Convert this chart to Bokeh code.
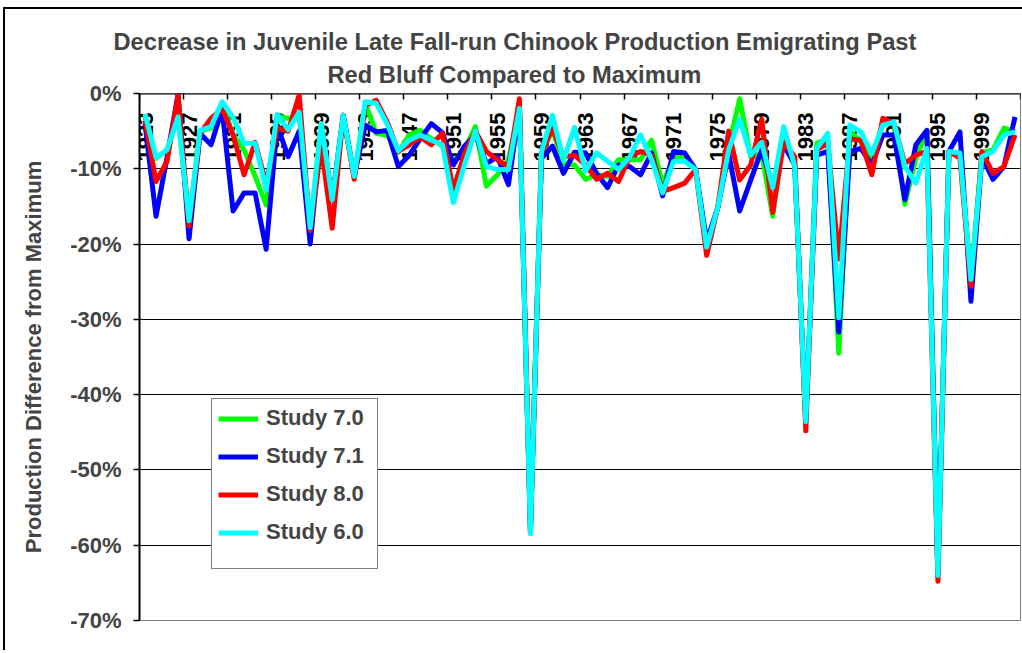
import math
from bokeh.plotting import figure
from bokeh.models import (LinearAxis, FixedTicker, CustomJSTickFormatter, Legend,
                          LegendItem, Range1d, Title, ColumnDataSource)
from bokeh.core.properties import value
from bokeh.embed import file_html
from bokeh.resources import INLINE

years = list(range(1923, 2003))

study_70 = [-3.0, -8.6, -7.5, -3.1, -17.0, -5.0, -4.6, -1.3, -5.5, -7.5,
            -11.0, -14.8, -3.0, -3.3, -3.0, -18.0, -4.0, -14.1, -2.9, -11.0,
            -1.3, -5.3, -5.6, -7.8, -5.5, -4.9, -6.0, -7.0, -9.0, -7.5,
            -4.4, -12.3, -10.8, -8.8, -2.0, -58.3, -8.0, -4.8, -9.3, -9.5,
            -11.4, -10.8, -11.0, -8.8, -8.8, -8.8, -6.2, -12.1, -8.4, -8.6,
            -10.1, -20.0, -15.2, -7.0, -0.7, -8.4, -8.0, -16.3, -5.0, -9.7,
            -43.6, -6.6, -6.0, -34.5, -5.0, -6.4, -8.5, -4.0, -3.8, -14.7,
            -8.6, -4.9, -64.0, -7.7, -8.0, -24.7, -7.9, -7.5, -4.6, -5.1]

study_71 = [-4.0, -16.3, -8.5, -0.1, -19.3, -5.3, -6.8, -2.1, -15.6, -13.2,
            -13.2, -20.7, -4.2, -8.4, -5.0, -20.0, -5.0, -14.1, -2.9, -11.0,
            -4.2, -5.1, -4.9, -9.7, -8.2, -6.0, -4.0, -5.2, -9.5, -7.0,
            -5.5, -9.3, -8.4, -12.1, -2.0, -58.3, -8.6, -7.0, -10.6, -7.8,
            -7.9, -10.6, -12.5, -9.5, -9.7, -10.8, -7.9, -13.6, -7.7, -7.9,
            -10.1, -19.6, -15.2, -8.0, -15.6, -11.5, -7.5, -12.5, -6.8, -9.5,
            -43.6, -8.2, -7.7, -31.7, -7.7, -7.3, -9.5, -5.5, -5.5, -14.1,
            -6.8, -4.9, -64.0, -7.7, -5.1, -27.6, -8.4, -11.4, -9.7, -3.1]

study_80 = [-3.6, -11.7, -9.0, -0.3, -17.6, -5.3, -3.3, -2.0, -5.5, -10.8,
            -6.5, -12.0, -4.6, -5.0, -0.2, -18.2, -7.0, -17.9, -2.9, -11.4,
            -1.6, -0.9, -3.8, -7.7, -6.8, -5.8, -6.8, -5.3, -12.8, -8.0,
            -5.0, -7.7, -8.8, -9.7, -0.7, -58.0, -8.0, -4.6, -8.4, -8.2,
            -9.5, -11.4, -10.6, -11.7, -8.4, -7.7, -8.2, -13.0, -12.5, -11.9,
            -10.1, -21.5, -15.2, -5.0, -11.5, -9.5, -3.4, -15.8, -6.5, -8.4,
            -44.8, -7.5, -6.6, -22.0, -6.0, -6.2, -10.8, -3.3, -4.0, -9.3,
            -8.2, -7.7, -64.8, -7.7, -8.6, -25.6, -7.7, -10.6, -9.7, -5.5]

study_60 = [-2.7, -8.5, -7.5, -3.1, -16.9, -4.9, -4.4, -1.1, -3.2, -6.6,
            -6.6, -12.8, -2.8, -4.8, -2.5, -17.8, -4.0, -14.1, -2.9, -11.0,
            -1.1, -1.3, -4.1, -7.6, -6.2, -5.5, -6.2, -6.8, -14.5, -9.5,
            -5.0, -9.7, -10.1, -10.1, -2.0, -58.5, -7.7, -2.9, -8.9, -4.5,
            -10.3, -7.9, -9.0, -10.1, -8.5, -5.5, -8.8, -13.2, -9.0, -9.0,
            -10.1, -20.4, -15.2, -7.5, -3.4, -8.2, -6.5, -12.5, -4.4, -9.7,
            -43.6, -7.3, -5.3, -29.8, -4.2, -5.1, -8.0, -4.2, -3.8, -9.7,
            -11.9, -7.3, -64.0, -7.7, -7.9, -24.7, -8.4, -7.7, -5.5, -5.1]

series_names = ["Study 7.0", "Study 7.1", "Study 8.0", "Study 6.0"]
series_colors = ["#00FF00", "#0000FF", "#FF0000", "#00FFFF"]

tick_label_years = list(range(1923, 2000, 4))
y_ticks = [0, -10, -20, -30, -40, -50, -60, -70]

title_line1 = "Decrease in Juvenile Late Fall-run Chinook Production Emigrating Past"
title_line2 = "Red Bluff Compared to Maximum"
y_label = "Production Difference from Maximum"

FONT = "Liberation Sans"

FRAME_H = 527           # plot-area height in px (650 - 93 - 30)
Y_MIN, Y_MAX = -70, 0
LABEL_GAP_PX = 19       # gap between the 0% axis and the end of each year label

p = figure(width=1022, height=650, output_backend="svg", toolbar_location=None,
           x_range=Range1d(years[0] - 0.5, years[-1] + 0.5), y_range=Range1d(Y_MIN, Y_MAX),
           x_axis_location=None, y_axis_location="left",
           min_border_left=139, min_border_right=2, min_border_top=93, min_border_bottom=30,
           background_fill_color="white", border_fill_color="white", border_fill_alpha=0)
p.styles = {
    "background-color": "white",
    "background-image": "linear-gradient(#000, #000), linear-gradient(#000, #000)",
    "background-size": "2px 100%, 100% 2px",
    "background-position": "3px 7px, 3px 7px",
    "background-repeat": "no-repeat",
}

p.outline_line_color = "#808080"
p.outline_line_width = 1

# title: two lines, line 2 next to the frame
p.title.text = title_line1
p.title.align = "left"
p.title.offset = -26
p.title.text_font = FONT
p.title.text_font_style = "bold"
p.title.text_font_size = "23.7px"
p.title.standoff = 0
p.add_layout(Title(text=title_line2, align="left", offset=188, text_font=FONT,
                   text_font_style="bold", text_font_size="23.7px", standoff=11), "above")

# y axis
yax = p.yaxis[0]
yax.ticker = FixedTicker(ticks=y_ticks)
yax.formatter = CustomJSTickFormatter(code="return tick + '%';")
yax.major_tick_out = 6
yax.major_tick_in = 0
yax.minor_tick_out = 0
yax.minor_tick_in = 0
yax.axis_line_color = "black"
yax.axis_line_width = 2
yax.major_tick_line_width = 1.5
yax.major_label_standoff = 12
yax.major_label_text_font = FONT
yax.major_label_text_font_style = "bold"
yax.major_label_text_font_size = "22px"
yax.axis_label = y_label
yax.axis_label_text_font = FONT
yax.axis_label_text_font_style = "bold"
yax.axis_label_text_font_size = "22px"
yax.axis_label_standoff = 21

p.ygrid.ticker = FixedTicker(ticks=y_ticks)
p.ygrid.grid_line_color = "black"
p.ygrid.grid_line_width = 1
p.xgrid.visible = False

# category tick marks (between categories) on the 0% line
tick_axis = LinearAxis(ticker=FixedTicker(ticks=[y - 0.5 for y in tick_label_years] + [years[-1] + 0.5]),
                       fixed_location=0, major_tick_out=6, major_tick_in=0,
                       minor_tick_out=0, minor_tick_in=0,
                       axis_line_color="black", axis_line_width=2,
                       major_tick_line_width=1.5,
                       major_label_text_color=None, level="underlay")
p.add_layout(tick_axis, "below")

# year labels at category centers, just under the 0% axis, beneath the lines
label_y = Y_MAX - LABEL_GAP_PX * (Y_MAX - Y_MIN) / FRAME_H
label_src = ColumnDataSource(data=dict(x=tick_label_years,
                                       y=[label_y] * len(tick_label_years),
                                       t=[str(v) for v in tick_label_years]))
p.text(x="x", y="y", text="t", source=label_src, angle=math.pi / 2,
       text_align="right", text_baseline="middle",
       text_font=value(FONT), text_font_style=value("bold"),
       text_font_size=value("22px"), text_color="black")

renderers = []
for vals, color in zip([study_70, study_71, study_80, study_60], series_colors):
    r = p.line(years, vals, line_color=color, line_width=5, line_join="round")
    renderers.append(r)

legend = Legend(items=[LegendItem(label=n, renderers=[r]) for n, r in zip(series_names, renderers)],
                location=(72, 51), orientation="vertical",
                label_text_font=FONT, label_text_font_style="bold", label_text_font_size="22px",
                glyph_width=40, glyph_height=25, label_height=25, label_width=105,
                label_standoff=8, spacing=12, padding=6, margin=0,
                title=" ", title_location="below", title_text_font_size="10px",
                title_standoff=6,
                border_line_color="black", border_line_width=1,
                background_fill_color="white", background_fill_alpha=1)
p.add_layout(legend)

open("out.html", "w").write(file_html(p, INLINE))
